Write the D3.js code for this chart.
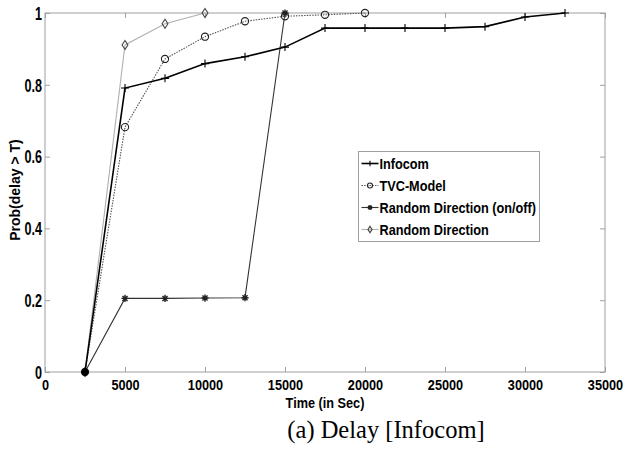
<!DOCTYPE html>
<html>
  <head>
    <meta charset="utf-8">
    <script src="https://d3js.org/d3.v7.min.js"></script>
    <style>
      body { margin: 0; background: #fff; }
      .tick text { font-family: "Liberation Sans", Arial, sans-serif; font-weight: bold; }
    </style>
  </head>
  <body>
    <div id="chart"></div>
    <script type="text/javascript">

      // values
      var xTicks = [0, 5000, 10000, 15000, 20000, 25000, 30000, 35000];
      var yTicks = [0, 0.2, 0.4, 0.6, 0.8, 1];

      var infocomT = [2500, 5000, 7500, 10000, 12500, 15000, 17500, 20000, 22500, 25000, 27500, 30000, 32500];
      var infocomP = [0, 0.791, 0.818, 0.859, 0.878, 0.905, 0.958, 0.958, 0.958, 0.958, 0.962, 0.989, 1.0];

      var tvcT = [2500, 5000, 7500, 10000, 12500, 15000, 17500, 20000];
      var tvcP = [0, 0.682, 0.872, 0.934, 0.977, 0.991, 0.995, 1.0];

      var rdOnOffT = [2500, 5000, 7500, 10000, 12500, 15000];
      var rdOnOffP = [0, 0.205, 0.205, 0.206, 0.207, 1.0];

      var rdT = [2500, 5000, 7500, 10000];
      var rdP = [0, 0.911, 0.970, 1.0];

      var seriesNames = ["Infocom", "TVC-Model", "Random Direction (on/off)", "Random Direction"];

      var margin = {top: 13, right: 19, bottom: 77, left: 45},
          width = 624 - margin.left - margin.right,
          height = 449 - margin.top - margin.bottom;

      var svg = d3.select("#chart")
          .append("svg")
          .attr("width", 624)
          .attr("height", 449);

      var g = svg.append("g")
          .attr("transform", "translate(" + margin.left + "," + margin.top + ")");

      var x = d3.scaleLinear().domain([0, 35000]).range([0, width]);
      var y = d3.scaleLinear().domain([0, 1]).range([height, 0]);

      // condensed bold text, like the original figure's font
      function narrowText(parent, tx, ty, size, sx, str, anchor) {
        return parent.append("g")
          .attr("transform", "translate(" + tx + "," + ty + ") scale(" + sx + ",1)")
          .append("text")
          .attr("text-anchor", anchor || "start")
          .attr("font-family", "'Liberation Sans', Arial, sans-serif")
          .attr("font-weight", "bold")
          .attr("font-size", size)
          .text(str);
      }

      // frame
      g.append("rect")
        .attr("width", width)
        .attr("height", height)
        .attr("fill", "none")
        .attr("stroke", "#a0a0a0")
        .attr("stroke-width", 1);

      // axes with inward ticks
      var xAxis = g.append("g")
        .attr("transform", "translate(0," + height + ")")
        .call(d3.axisBottom(x).tickValues(xTicks).tickSize(-5).tickPadding(7).tickFormat(d3.format("d")));
      var yAxis = g.append("g")
        .call(d3.axisLeft(y).tickValues(yTicks).tickSize(-5).tickPadding(4).tickFormat(function(d) { return d === 0 || d === 1 ? d : d3.format(".1f")(d); }));
      g.append("g")
        .call(d3.axisTop(x).tickValues(xTicks).tickSize(-5).tickFormat(""));
      g.append("g")
        .attr("transform", "translate(" + width + ",0)")
        .call(d3.axisRight(y).tickValues(yTicks).tickSize(-5).tickFormat(""));

      g.selectAll(".domain").remove();
      g.selectAll(".tick line").attr("stroke", "#a0a0a0");
      xAxis.selectAll(".tick text")
        .attr("font-size", 15.5).attr("fill", "#000")
        .attr("transform", "scale(0.82,1)");
      yAxis.selectAll(".tick text")
        .attr("font-size", 17.5).attr("fill", "#000").attr("dy", "0.36em")
        .attr("transform", "scale(0.72,1)");

      // axis titles
      narrowText(svg, margin.left + width / 2, 408, 15.5, 0.82, "Time (in Sec)", "middle");

      svg.append("text")
        .attr("transform", "translate(20,190) rotate(-90)")
        .attr("text-anchor", "middle")
        .attr("font-family", "'Liberation Sans', Arial, sans-serif")
        .attr("font-weight", "bold")
        .attr("font-size", 14)
        .text("Prob(delay > T)");

      svg.append("text")
        .attr("x", 386)
        .attr("y", 438)
        .attr("text-anchor", "middle")
        .attr("font-family", "'Liberation Serif', 'Times New Roman', serif")
        .attr("font-size", 24.5)
        .text("(a) Delay [Infocom]");

      // marker drawers
      function plusMark(sel, s, color) {
        sel.append("path").attr("d", "M" + (-s) + ",0H" + s + "M0," + (-s) + "V" + s)
          .attr("stroke", color).attr("stroke-width", 1.1).attr("fill", "none");
      }
      function circleMark(sel, s, color) {
        sel.append("circle").attr("r", s).attr("stroke", color).attr("stroke-width", 1.1).attr("fill", "none");
      }
      function starMark(sel, s, color) {
        var d = s * 0.7;
        sel.append("path")
          .attr("d", "M" + (-s) + ",0H" + s + "M0," + (-s) + "V" + s +
                     "M" + (-d) + "," + (-d) + "L" + d + "," + d + "M" + (-d) + "," + d + "L" + d + "," + (-d))
          .attr("stroke", color).attr("stroke-width", 1.4).attr("fill", "none");
      }
      function diamondMark(sel, s, color) {
        sel.append("path").attr("d", "M0," + (-s) + "L" + (s * 0.65) + ",0L0," + s + "L" + (-s * 0.65) + ",0Z")
          .attr("stroke", color).attr("stroke-width", 1.1).attr("fill", "none");
      }

      var series = [
        {name: seriesNames[0], t: infocomT, p: infocomP, color: "#000", lw: 1.6, dash: null, mark: plusMark, ms: 4, mc: "#000"},
        {name: seriesNames[1], t: tvcT, p: tvcP, color: "#555", lw: 1.1, dash: "1.5,1.2", mark: circleMark, ms: 3.6, mc: "#222"},
        {name: seriesNames[2], t: rdOnOffT, p: rdOnOffP, color: "#333", lw: 1.1, dash: null, mark: starMark, ms: 3.6, mc: "#222"},
        {name: seriesNames[3], t: rdT, p: rdP, color: "#b0b0b0", lw: 1.1, dash: null, mark: diamondMark, ms: 4.5, mc: "#444"}
      ];

      var line = d3.line()
        .x(function(d) { return x(d[0]); })
        .y(function(d) { return y(d[1]); });

      // draw back to front
      [3, 2, 1, 0].forEach(function(k) {
        var s = series[k];
        var pts = s.t.map(function(t, i) { return [t, s.p[i]]; });
        g.append("path")
          .datum(pts)
          .attr("d", line)
          .attr("fill", "none")
          .attr("stroke", s.color)
          .attr("stroke-width", s.lw)
          .attr("stroke-dasharray", s.dash);
        g.selectAll(null)
          .data(pts)
          .enter().append("g")
          .attr("transform", function(d) { return "translate(" + x(d[0]) + "," + y(d[1]) + ")"; })
          .each(function() { s.mark(d3.select(this), s.ms, s.mc); });
      });

      // blob at the common start point
      g.append("circle")
        .attr("cx", x(2500)).attr("cy", y(0)).attr("r", 3.5).attr("fill", "#000");

      // legend
      var legend = svg.append("g").attr("transform", "translate(358.5,151.5)");
      legend.append("rect")
        .attr("width", 181)
        .attr("height", 90)
        .attr("fill", "#fff")
        .attr("stroke", "#a0a0a0");

      series.forEach(function(s, i) {
        var row = legend.append("g").attr("transform", "translate(0," + (12 + i * 22) + ")");
        row.append("line")
          .attr("x1", 3).attr("x2", 20)
          .attr("stroke", s.color).attr("stroke-width", s.lw)
          .attr("stroke-dasharray", s.dash);
        var m = row.append("g").attr("transform", "translate(11.5,0)");
        s.mark(m, s.ms * 0.7, s.mc);
        narrowText(row, 21, 0, 15.5, 0.82, s.name).attr("dy", "0.36em");
      });

    </script>
  </body>
</html>
